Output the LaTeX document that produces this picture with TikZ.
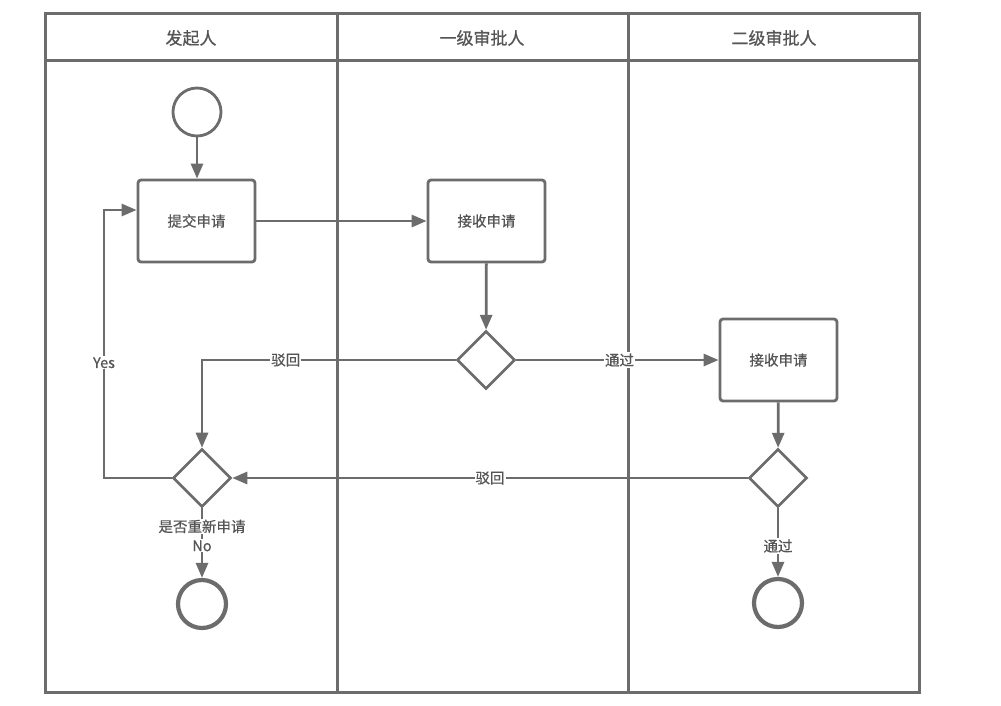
\documentclass[tikz,border=0pt]{standalone}
\usepackage{fontspec}
\setmainfont{Noto Sans CJK SC}[FakeBold=0.6]
\usetikzlibrary{arrows.meta,shapes.geometric}
\definecolor{ln}{RGB}{108,108,108}
\definecolor{tx}{RGB}{85,85,85}
\begin{document}
\begin{tikzpicture}[x=1pt,y=-1pt,
  frame/.style={draw=ln,line width=3pt},
  actbox/.style={draw=ln,line width=2.8pt,rounded corners=3pt,minimum width=117pt,minimum height=82pt,inner sep=0pt,text=tx,font=\fontsize{14.5}{16}\selectfont},
  dec/.style={draw=ln,line width=2.6pt,diamond,minimum width=58pt,minimum height=58pt,inner sep=0pt},
  startc/.style={draw=ln,line width=2.8pt,circle,minimum size=48pt,inner sep=0pt},
  endc/.style={draw=ln,line width=4.2pt,circle,minimum size=48pt,inner sep=0pt},
  conn/.style={draw=ln,line width=2.8pt,-{Triangle[length=15pt,width=12pt]}},
  lbl/.style={fill=white,text=tx,inner sep=1pt,font=\fontsize{14.5}{16}\selectfont},
  hdr/.style={text=tx,font=\fontsize{17}{19}\selectfont}]
\useasboundingbox (0,0) rectangle (1001,705);
\fill[white] (0,0) rectangle (1001,705);
% swimlane frame
\draw[frame] (45,13) rectangle (919,692);
\draw[frame] (45,60) -- (919,60);
\draw[frame] (337,13) -- (337,692);
\draw[frame] (628,13) -- (628,692);
\node[hdr] (h1) at (191,38) {发起人};
\node[hdr] (h2) at (482,38) {一级审批人};
\node[hdr] (h3) at (774,38) {二级审批人};
% nodes
\node[startc] (s) at (197,112) {};
\node[actbox] (a1) at (196.5,221) {提交申请};
\node[actbox] (a2) at (486.5,221) {接收申请};
\node[dec] (d2) at (486,360) {};
\node[actbox] (a3) at (778.5,360) {接收申请};
\node[dec] (d3) at (778,478) {};
\node[endc] (e3) at (778,603) {};
\node[dec] (d1) at (202,478) {};
\node[endc] (e1) at (202,604) {};
\coordinate (c1) at (202,360);
\coordinate (c2) at (104,478);
\coordinate (c3) at (104,210);
% connectors
\draw[conn] (s) -- (a1.north-|s);
\draw[conn] (a1) -- (a2);
\draw[conn] (a2) -- (d2);
\draw[conn] (d2) -- node[lbl,pos=0.51] {通过} (a3);
\draw[conn] (d2.west) -- node[lbl,pos=0.67] {驳回} (c1) -- (d1.north);
\draw[conn] (a3) -- (d3);
\draw[conn] (d3.west) -- node[lbl,pos=0.5] {驳回} (d1.east);
\draw[conn] (d3.south) -- node[lbl,pos=0.55] {通过} (e3.north);
\draw[conn] (d1.west) -- (c2) -- node[lbl,pos=0.43] {Yes} (c3) -- (c3-|a1.west);
\draw[conn] (d1.south) -- node[lbl,pos=0.26] {是否重新申请} node[lbl,pos=0.54] {No} (e1.north);
\end{tikzpicture}
\end{document}
